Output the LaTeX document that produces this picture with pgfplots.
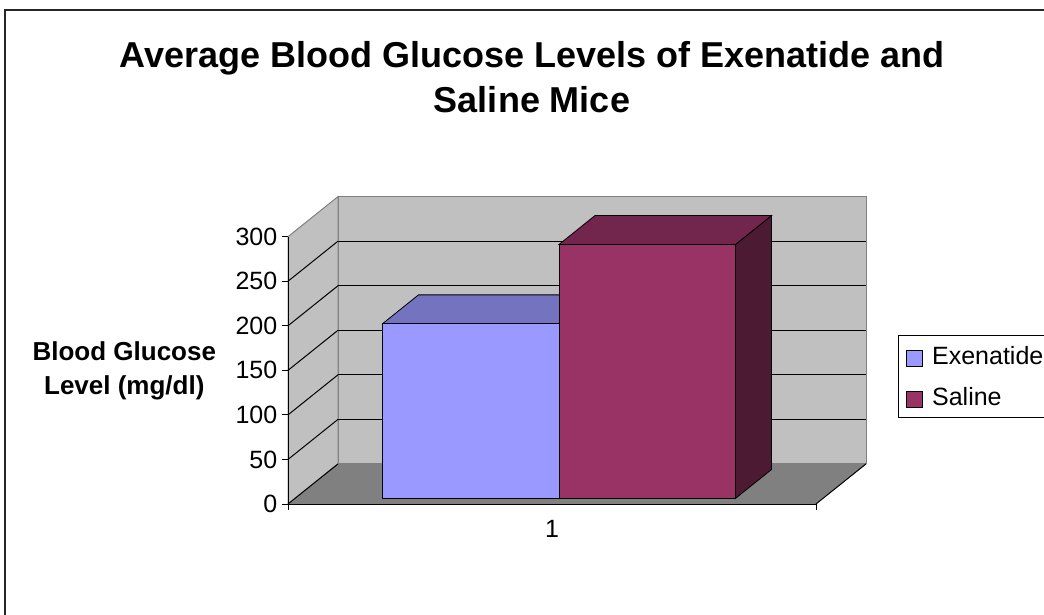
\documentclass[border=0pt]{standalone}
\usepackage{pgfplots}
\pgfplotsset{compat=1.18}
\usepackage{pgfplotstable}
\usepackage{fontspec}
\setmainfont{Liberation Sans}

\definecolor{exfront}{HTML}{9999FF}
\definecolor{extop}{HTML}{7373BF}
\definecolor{exside}{HTML}{4D4D80}
\definecolor{safront}{HTML}{993366}
\definecolor{satop}{HTML}{73264D}
\definecolor{saside}{HTML}{4D1A33}
\definecolor{wallc}{HTML}{C0C0C0}
\definecolor{floorc}{HTML}{808080}

% bar data: left and right edge of each bar on the category axis, and value
\pgfplotstableread{
group x0 x1 value
Exenatide 87.5 264 196
Saline 264 440.5 285
}\bardata

% draw one 3-D bar: #1 row, #2 front colour, #3 top colour, #4 side colour
\newcommand\drawbar[4]{%
  \pgfplotstablegetelem{#1}{x0}\of\bardata \pgfmathsetmacro\ba{\pgfplotsretval}%
  \pgfplotstablegetelem{#1}{x1}\of\bardata \pgfmathsetmacro\bb{\pgfplotsretval}%
  \pgfplotstablegetelem{#1}{value}\of\bardata \pgfmathsetmacro\bv{\pgfplotsretval}%
  \pgfmathsetmacro\xa{\ba+7}\pgfmathsetmacro\xb{\bb+7}%
  \pgfmathsetmacro\xc{\bb+43}\pgfmathsetmacro\xd{\ba+43}%
  \pgfmathsetmacro\ya{6.3}\pgfmathsetmacro\yb{6.3+\bv}%
  \pgfmathsetmacro\yc{38.7+\bv}\pgfmathsetmacro\yd{38.7}%
  \addplot[fill=#4, draw=black, line width=0.6pt, forget plot] coordinates {(\xb,\ya) (\xc,\yd) (\xc,\yc) (\xb,\yb)} --cycle;
  \addplot[fill=#3, draw=black, line width=0.6pt, forget plot] coordinates {(\xa,\yb) (\xb,\yb) (\xc,\yc) (\xd,\yc)} --cycle;
  \addplot[fill=#2, draw=black, line width=0.6pt, forget plot] coordinates {(\xa,\ya) (\xb,\ya) (\xb,\yb) (\xa,\yb)} --cycle;
}

\begin{document}
\begin{tikzpicture}
\path[use as bounding box] (0,0) rectangle (783pt,460.5pt);
\clip (0,0) rectangle (783pt,460.5pt);
\draw[line width=1.1pt, black!85] (3.75pt,-10pt) -- (3.75pt,453pt) -- (800pt,453pt);
\node[align=center, anchor=north, inner sep=0pt,
      font=\bfseries\fontsize{27}{33.75}\selectfont] at (399pt,429.5pt)
  {Average Blood Glucose Levels of Exenatide and\\Saline Mice};

\begin{axis}[
  at={(216pt,82.5pt)}, anchor=origin,
  x=0.75pt, y=0.66825pt,
  xmin=0, xmax=528, ymin=0, ymax=300,
  clip=false,
  axis on top,
  axis lines*=left,
  axis line style={black, line width=0.75pt},
  tick style={black, line width=0.75pt},
  major tick length=4.5pt,
  tick align=outside,
  ytick={0,50,...,300},
  xtick={0,528},
  xticklabels={},
  extra x ticks={264},
  extra x tick labels={1},
  extra x tick style={major tick length=0pt, xticklabel style={yshift=-9pt}},
  /pgf/number format/assume math mode=true,
  tick label style={font=\fontsize{18.75}{22}\selectfont},
  ylabel={Blood Glucose\\Level (mg/dl)},
  ylabel style={rotate=-90, at={(axis description cs:-0.31,0.5)}, anchor=center,
    align=center, font=\bfseries\fontsize{19.5}{25.5}\selectfont},
  legend style={at={(1.155,0.632)}, anchor=north west, draw=black, line width=0.75pt,
    font=\fontsize{18.75}{22}\selectfont, inner xsep=5.5pt, inner ysep=5.8pt,
    row sep=11.75pt, legend cell align=left,
    /tikz/every odd column/.append style={column sep=5.25pt}},
  legend image code/.code={\draw[#1, line width=0.6pt] (0pt,-8pt) rectangle (12pt,4pt);},
]
% back wall, side wall, floor
\addplot[fill=wallc, draw=floorc, line width=0.75pt, forget plot] coordinates {(50,45) (578,45) (578,345) (50,345)} --cycle;
\addplot[fill=wallc, draw=floorc, line width=0.75pt, forget plot] coordinates {(0,0) (50,45) (50,345) (0,300)} --cycle;
\addplot[fill=floorc, draw=none, forget plot] coordinates {(0,0) (528,0) (578,45) (50,45)} --cycle;
\addplot[black, line width=0.75pt, forget plot] coordinates {(0,0) (50,45)};
\addplot[black, line width=0.75pt, forget plot] coordinates {(528,0) (578,45)};
% gridlines on the back wall
\addplot[black, line width=0.75pt, forget plot] coordinates {(50,95) (578,95)};
\addplot[black, line width=0.75pt, forget plot] coordinates {(50,145) (578,145)};
\addplot[black, line width=0.75pt, forget plot] coordinates {(50,195) (578,195)};
\addplot[black, line width=0.75pt, forget plot] coordinates {(50,245) (578,245)};
\addplot[black, line width=0.75pt, forget plot] coordinates {(50,295) (578,295)};
% gridlines on the side wall
\addplot[black, line width=0.75pt, forget plot] coordinates {(0,50) (50,95)};
\addplot[black, line width=0.75pt, forget plot] coordinates {(0,100) (50,145)};
\addplot[black, line width=0.75pt, forget plot] coordinates {(0,150) (50,195)};
\addplot[black, line width=0.75pt, forget plot] coordinates {(0,200) (50,245)};
\addplot[black, line width=0.75pt, forget plot] coordinates {(0,250) (50,295)};
% bars
\drawbar{0}{exfront}{extop}{exside}
\drawbar{1}{safront}{satop}{saside}
\addlegendimage{fill=exfront, draw=black}
\addlegendentry{Exenatide}
\addlegendimage{fill=safront, draw=black}
\addlegendentry{Saline}
\end{axis}
\end{tikzpicture}
\end{document}
